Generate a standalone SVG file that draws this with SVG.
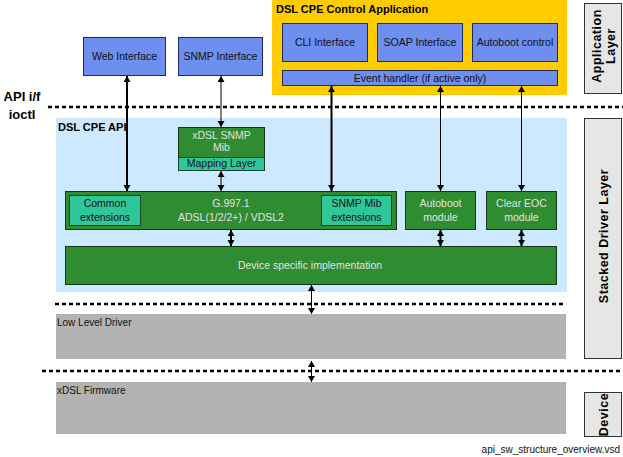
<svg xmlns="http://www.w3.org/2000/svg" width="623" height="457" viewBox="0 0 623 457">
<style>
text{font-family:"Liberation Sans",Arial,sans-serif;}
.t{font-size:10.5px;fill:#111;text-anchor:middle;}
.tl{font-size:10.5px;fill:#e2e2e2;text-anchor:middle;}
.b{font-weight:bold;fill:#000;}
.blue{fill:#6e8ef0;stroke:#1c2a60;stroke-width:1;}
.green{fill:#2f8c30;stroke:#143814;stroke-width:1;}
.teal{fill:#2ec79a;stroke:#104030;stroke-width:1;}
.side{fill:#e6e6e6;stroke:#333;stroke-width:1;}
.grey{fill:#b3b3b3;}
.dot{stroke:#000;stroke-width:2.5;stroke-dasharray:4 3;fill:none;}
.thick{stroke:#000;stroke-width:2;fill:none;marker-start:url(#ah);marker-end:url(#ah);}
.thin{stroke:#000;stroke-width:1;fill:none;marker-start:url(#ah);marker-end:url(#ah);}
.side-t{font-size:12.5px;font-weight:bold;fill:#000;text-anchor:middle;letter-spacing:0.5px;}
</style>
<defs>
<marker id="ah" markerUnits="userSpaceOnUse" markerWidth="8" markerHeight="8" refX="6" refY="3.5" orient="auto-start-reverse">
<path d="M0,0 L6,3.5 L0,7 z" fill="#000"/>
</marker>
</defs>
<rect width="623" height="457" fill="#fff"/>

<!-- background regions -->
<g id="app-region">
<rect x="272" y="0" width="295" height="95" fill="#ffcc00"/>
<text x="276" y="13" class="b" font-size="11">DSL CPE Control Application</text>
</g>
<g id="api-region">
<rect x="56" y="118" width="511" height="174" fill="#cce9ff"/>
<text x="58" y="131" class="b" font-size="11">DSL CPE API</text>
</g>

<!-- labels left -->
<g id="api-if-label">
<text x="22" y="101" class="b" font-size="13" text-anchor="middle">API  i/f</text>
<text x="22" y="119" class="b" font-size="13" text-anchor="middle">ioctl</text>
</g>

<!-- dotted separators -->
<g id="separators">
<line x1="48" y1="107" x2="623" y2="107" class="dot"/>
<line x1="55" y1="304" x2="566" y2="304" class="dot"/>
<line x1="42" y1="371" x2="623" y2="371" class="dot"/>
</g>

<!-- layer labels -->
<g id="application-layer">
<rect x="584.5" y="3.5" width="37" height="90" class="side"/>
<text transform="translate(600.5,46) rotate(-90)" class="side-t">Application</text>
<text transform="translate(615,46) rotate(-90)" class="side-t">Layer</text>
</g>
<g id="stacked-driver-layer">
<rect x="584.5" y="118.5" width="37" height="240" class="side"/>
<text transform="translate(607.5,236) rotate(-90)" class="side-t" font-size="12" letter-spacing="0.3">Stacked Driver Layer</text>
</g>
<g id="device-layer">
<rect x="584.5" y="392.5" width="37" height="44" class="side"/>
<text transform="translate(607.5,414.5) rotate(-90)" class="side-t" font-size="12" letter-spacing="0">Device</text>
</g>

<!-- application nodes -->
<g id="web-interface">
<rect x="83.5" y="37.5" width="82" height="38" class="blue"/>
<text x="124.5" y="60" class="t">Web Interface</text>
</g>
<g id="snmp-interface">
<rect x="178.5" y="37.5" width="84" height="38" class="blue"/>
<text x="220.5" y="60" class="t">SNMP Interface</text>
</g>
<g id="cli-interface">
<rect x="282.5" y="23.5" width="85" height="38" class="blue"/>
<text x="325" y="46" class="t">CLI Interface</text>
</g>
<g id="soap-interface">
<rect x="377.5" y="23.5" width="85" height="38" class="blue"/>
<text x="420" y="46" class="t">SOAP Interface</text>
</g>
<g id="autoboot-control">
<rect x="472.5" y="23.5" width="85" height="38" class="blue"/>
<text x="515" y="46" class="t">Autoboot control</text>
</g>
<g id="event-handler">
<rect x="282.5" y="70.5" width="275" height="15" class="blue"/>
<text x="420" y="82" class="t">Event handler (if active only)</text>
</g>

<!-- API nodes -->
<g id="xdsl-snmp-mib">
<rect x="178.5" y="127.5" width="86" height="43" class="green"/>
<rect x="178.5" y="157.5" width="86" height="13" class="teal"/>
<text x="221.5" y="139" class="tl">xDSL SNMP</text>
<text x="221.5" y="151" class="tl">Mib</text>
<text x="221.5" y="167" class="t">Mapping Layer</text>
</g>
<g id="g9971">
<rect x="65.5" y="191.5" width="331" height="38" class="green"/>
<text x="231" y="207" class="tl">G.997.1</text>
<text x="231" y="221" class="tl">ADSL(1/2/2+) / VDSL2</text>
</g>
<g id="common-extensions">
<rect x="69.5" y="195.5" width="71" height="30" class="teal"/>
<text x="105" y="207" class="t">Common</text>
<text x="105" y="221" class="t">extensions</text>
</g>
<g id="snmp-mib-extensions">
<rect x="321.5" y="195.5" width="70" height="30" class="teal"/>
<text x="356.5" y="207" class="t">SNMP Mib</text>
<text x="356.5" y="221" class="t">extensions</text>
</g>
<g id="autoboot-module">
<rect x="405.5" y="191.5" width="70" height="38" class="green"/>
<text x="440.5" y="207" class="tl">Autoboot</text>
<text x="440.5" y="221" class="tl">module</text>
</g>
<g id="clear-eoc-module">
<rect x="486.5" y="191.5" width="70" height="38" class="green"/>
<text x="521.5" y="207" class="tl">Clear EOC</text>
<text x="521.5" y="221" class="tl">module</text>
</g>
<g id="device-specific">
<rect x="65.5" y="246.5" width="491" height="38" class="green"/>
<text x="310" y="269" class="tl">Device specific implementation</text>
</g>

<!-- lower layers -->
<g id="low-level-driver">
<rect x="56" y="314" width="510" height="45" class="grey"/>
<text x="57" y="326" font-size="10" fill="#111">Low Level Driver</text>
</g>
<g id="xdsl-firmware">
<rect x="56" y="382" width="510" height="52" class="grey"/>
<text x="57" y="394" font-size="10" fill="#111">xDSL Firmware</text>
</g>

<!-- connectors -->
<g id="connectors">
<line x1="127" y1="76" x2="127" y2="191" class="thick"/>
<line x1="221" y1="76" x2="221" y2="127" class="thin"/>
<line x1="221" y1="171" x2="221" y2="191" class="thin"/>
<line x1="331.5" y1="86" x2="331.5" y2="191" class="thick"/>
<line x1="440.5" y1="86" x2="440.5" y2="191" class="thin"/>
<line x1="521.5" y1="86" x2="521.5" y2="191" class="thin"/>
<line x1="231" y1="230" x2="231" y2="246" class="thick"/>
<line x1="440.5" y1="230" x2="440.5" y2="246" class="thick"/>
<line x1="521.5" y1="230" x2="521.5" y2="246" class="thick"/>
<line x1="311.5" y1="285" x2="311.5" y2="314" class="thin"/>
<line x1="311.5" y1="361" x2="311.5" y2="382" class="thin"/>
</g>

<text x="620" y="453" font-size="10" fill="#111" text-anchor="end">api_sw_structure_overview.vsd</text>
</svg>
